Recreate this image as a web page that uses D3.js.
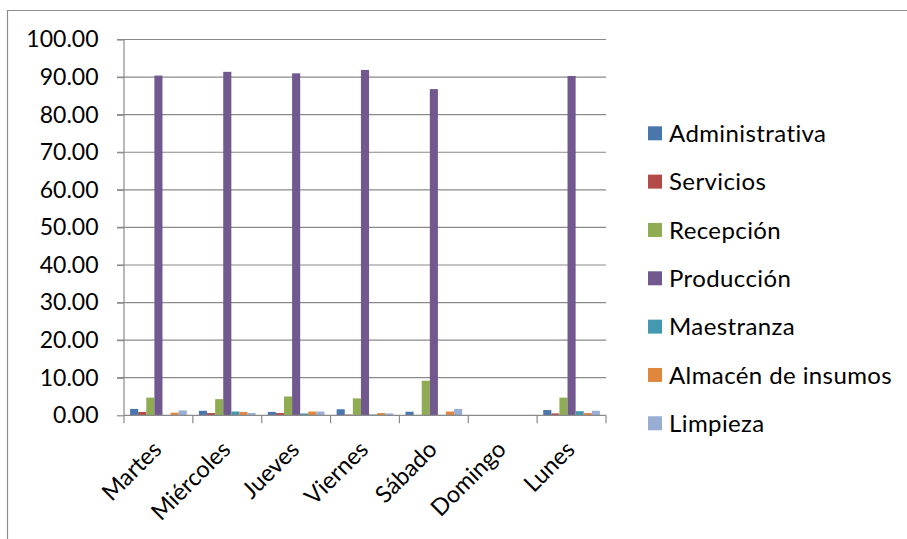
<!DOCTYPE html>
<html>
<head>
<meta charset="utf-8">
<script src="https://cdn.jsdelivr.net/npm/d3@7"></script>
<style>
  html, body { margin: 0; padding: 0; background: #fff; }
  svg { display: block; }
  text { font-family: Lato, "Open Sans", sans-serif; fill: #000; }
</style>
</head>
<body>
<svg id="chart" width="907" height="539"></svg>
<script>
// Días de la semana
const days = ["Martes", "Miércoles", "Jueves", "Viernes", "Sábado", "Domingo", "Lunes"];

// Áreas (series)
const areas = ["Administrativa", "Servicios", "Recepción", "Producción", "Maestranza", "Almacén de insumos", "Limpieza"];
const areaColors = ["#4a76ae", "#b34a47", "#8fac53", "#71598f", "#4499b2", "#e0873d", "#98aed3"];

// Porcentaje por área y día (mismo orden que days)
const administrativa = [1.7, 1.2, 0.9, 1.6, 0.95, 0, 1.4];
const servicios      = [0.9, 0.6, 0.6, 0.2, 0.1, 0, 0.5];
const recepcion      = [4.7, 4.3, 5.0, 4.5, 9.2, 0, 4.7];
const produccion     = [90.4, 91.4, 91.0, 91.9, 86.8, 0, 90.3];
const maestranza     = [0.1, 1.0, 0.5, 0.2, 0.1, 0, 1.1];
const almacen        = [0.7, 0.9, 1.0, 0.6, 1.0, 0, 0.6];
const limpieza       = [1.3, 0.6, 1.0, 0.5, 1.7, 0, 1.2];

const yTicks = [0, 10, 20, 30, 40, 50, 60, 70, 80, 90, 100];

const seriesValues = [administrativa, servicios, recepcion, produccion, maestranza, almacen, limpieza];

const svg = d3.select("#chart");
const gridColor = "#8a8a8a";

// Marco exterior (solo borde izquierdo y superior visibles)
svg.append("path")
  .attr("d", "M7.5,539 L7.5,10.5 L907,10.5")
  .attr("fill", "none")
  .attr("stroke", "#8c8c8c")
  .attr("stroke-width", 1.2);

const plot = { left: 124, right: 606, top: 39.5, bottom: 415.3 };

const x0 = d3.scaleBand().domain(days).range([plot.left, plot.right]).paddingInner(0).paddingOuter(0);
const x1 = d3.scaleBand().domain(areas).range([0, x0.bandwidth()]).paddingInner(0).paddingOuter(0.75);
const y = d3.scaleLinear().domain([0, 100]).range([plot.bottom, plot.top]);

// Líneas de división horizontales
svg.append("g")
  .selectAll("line")
  .data(yTicks.filter(t => t > 0))
  .join("line")
  .attr("x1", plot.left - 7)
  .attr("x2", plot.right)
  .attr("y1", d => y(d))
  .attr("y2", d => y(d))
  .attr("stroke", gridColor)
  .attr("stroke-width", 1.2);

// Eje vertical
const yAxis = svg.append("g")
  .attr("transform", `translate(${plot.left},0)`)
  .call(d3.axisLeft(y).tickValues(yTicks).tickSize(7).tickPadding(18.5).tickFormat(d3.format(".2f")));
yAxis.select(".domain").attr("stroke", gridColor).attr("stroke-width", 1.2).attr("d", `M0,${plot.top}V${plot.bottom}`);
yAxis.selectAll(".tick line").attr("stroke", gridColor).attr("stroke-width", 1.2);
yAxis.selectAll(".tick text").style("font-size", "23px").style("font-family", "Lato, sans-serif").attr("fill", "#000");

// Barras
const groups = svg.append("g")
  .selectAll("g")
  .data(days)
  .join("g")
  .attr("transform", d => `translate(${x0(d)},0)`);

groups.selectAll("rect")
  .data((d, i) => areas.map((a, j) => ({ area: a, value: seriesValues[j][i], color: areaColors[j] })))
  .join("rect")
  .attr("x", d => x1(d.area))
  .attr("width", x1.bandwidth())
  .attr("y", d => y(d.value))
  .attr("height", d => y(0) - y(d.value))
  .attr("fill", d => d.color);

// Eje horizontal
const xAxis = svg.append("g")
  .attr("transform", `translate(0,${plot.bottom})`);
xAxis.append("line")
  .attr("x1", plot.left).attr("x2", plot.right)
  .attr("stroke", gridColor).attr("stroke-width", 1.2);
const boundaries = days.map(d => x0(d)).concat([plot.right]);
xAxis.selectAll("line.tick")
  .data(boundaries)
  .join("line")
  .attr("class", "tick")
  .attr("x1", d => d).attr("x2", d => d)
  .attr("y1", 0).attr("y2", 8)
  .attr("stroke", gridColor).attr("stroke-width", 1.2);
xAxis.selectAll("text")
  .data(days)
  .join("text")
  .attr("transform", d => `translate(${x0(d) + x0.bandwidth() / 2 - 7},${24}) rotate(-45)`)
  .attr("text-anchor", "end")
  .attr("dy", "0.7em")
  .style("font-size", "23.5px")
  .text(d => d);

// Leyenda
const legend = svg.append("g").attr("transform", "translate(648,133.3)");
const rows = legend.selectAll("g")
  .data(areas)
  .join("g")
  .attr("transform", (d, i) => `translate(0,${i * 48.33})`);
rows.append("rect")
  .attr("x", 0).attr("y", -7)
  .attr("width", 14).attr("height", 14)
  .attr("fill", (d, i) => areaColors[i]);
rows.append("text")
  .attr("x", 21)
  .attr("dy", "0.36em")
  .style("font-size", "24px")
  .style("letter-spacing", "0.4px")
  .text(d => d);
</script>
</body>
</html>
